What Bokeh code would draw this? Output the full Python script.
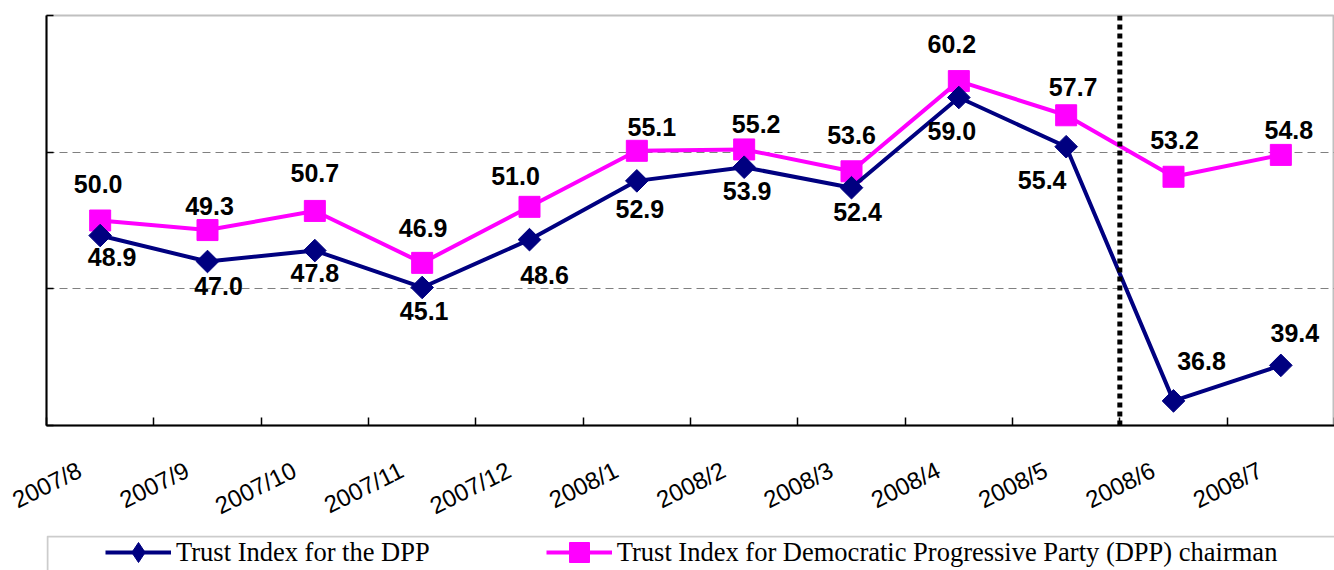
import math
from bokeh.plotting import figure
from bokeh.layouts import column
from bokeh.models import (ColumnDataSource, Range1d, FixedTicker, LabelSet, Span,
                          Legend, LegendItem, BoxAnnotation)
from bokeh.core.properties import value
from bokeh.embed import file_html
from bokeh.resources import INLINE

# ---------------- data ----------------
months = ["2007/8", "2007/9", "2007/10", "2007/11", "2007/12", "2008/1",
          "2008/2", "2008/3", "2008/4", "2008/5", "2008/6", "2008/7"]
dpp = [48.9, 47.0, 47.8, 45.1, 48.6, 52.9, 53.9, 52.4, 59.0, 55.4, 36.8, 39.4]
chairman = [50.0, 49.3, 50.7, 46.9, 51.0, 55.1, 55.2, 53.6, 60.2, 57.7, 53.2, 54.8]
y_ticks = [35, 45, 55, 65]
grid_values = [45, 55]
divider_after = "2008/5"
dpp_name = "Trust Index for the DPP"
chairman_name = "Trust Index for Democratic Progressive Party (DPP) chairman"

# label placement (screen px: right / up)
chair_dx = [-2, 2, 0, 1, -14, 15, 12, 0, -7, 7, 1, 8]
chair_dy = [37, 24, 38, 35, 31, 24, 25, 36, 37, 28, 37, 25]
dpp_dx = [12, 11, 0, 2, 15, 3, 3, 6, -7, -24, 28, 14]
dpp_dy = [-21, -24, -22, -24, -35, -28, -24, -24, -33, -33, 40, 32]

# ---------------- layout constants ----------------
W = 1334
TOTAL_H = 570
LEFT = 46
AXIS_PANEL = 110            # room below the chart frame for the category labels
H_MAIN = 425 + AXIS_PANEL   # chart frame bottom at page y 425
H_LOW = TOTAL_H - H_MAIN    # legend strip
LABEL_SHIFT = 0.19          # category-label anchor shift (fraction of a category)
LEGEND_MID = 552            # page y of legend text centre
LEGEND_KEY_DX = 59          # first legend key, px right of the frame's left edge

n = len(months)
xs = [i + 0.5 for i in range(n)]
label_pos = [x - LABEL_SHIFT for x in xs]

p = figure(width=W, height=H_MAIN, output_backend="svg", toolbar_location=None,
           x_range=Range1d(0, n), y_range=Range1d(y_ticks[0], y_ticks[-1]),
           min_border_left=LEFT, min_border_top=15, min_border_right=0,
           min_border_bottom=AXIS_PANEL)
p.background_fill_color = "white"
p.border_fill_color = "white"
p.outline_line_color = "#c0c0c0"
p.outline_line_width = 2

# grid
p.xgrid.grid_line_color = None
p.ygrid.ticker = FixedTicker(ticks=grid_values)
p.ygrid.grid_line_color = "#808080"
p.ygrid.grid_line_dash = "8 5"
p.ygrid.grid_line_width = 1

# y axis (no labels, inward ticks)
p.yaxis.ticker = FixedTicker(ticks=y_ticks)
p.yaxis.major_label_overrides = {t: "" for t in y_ticks}
p.yaxis.major_tick_in = 7
p.yaxis.major_tick_out = 0
p.yaxis.minor_tick_line_color = None
p.yaxis.axis_line_width = 2
p.yaxis.axis_line_color = "black"
p.yaxis.major_tick_line_color = "black"
p.yaxis.major_tick_line_width = 1.5

# x axis: rotated month labels, ticks at category boundaries
p.xaxis.ticker = FixedTicker(ticks=label_pos, minor_ticks=list(range(n + 1)))
p.xaxis.major_label_overrides = {x: m for x, m in zip(label_pos, months)}
p.xaxis.major_tick_in = 0
p.xaxis.major_tick_out = 0
p.xaxis.minor_tick_in = 8
p.xaxis.minor_tick_out = 0
p.xaxis.minor_tick_line_color = "black"
p.xaxis.minor_tick_line_width = 1.5
p.xaxis.axis_line_width = 2
p.xaxis.axis_line_color = "black"
p.xaxis.major_label_orientation = 0.46
p.xaxis.major_label_standoff = 43
p.xaxis.major_label_text_font = "Liberation Sans"
p.xaxis.major_label_text_font_size = "24px"
p.xaxis.major_label_text_color = "black"

# divider
p.add_layout(Span(location=months.index(divider_after) + 1, dimension="height",
                  line_color="black", line_width=5, line_dash="5 4"))

# series
src = ColumnDataSource(dict(x=xs, dpp=dpp, chairman=chairman,
                            dpp_txt=[f"{v:.1f}" for v in dpp],
                            ch_txt=[f"{v:.1f}" for v in chairman],
                            ch_dx=chair_dx, ch_dy=chair_dy, dpp_dx=dpp_dx, dpp_dy=dpp_dy))

pink = "#ff00ff"
navy = "#000080"

p.line("x", "chairman", source=src, line_color=pink, line_width=4)
p.scatter("x", "chairman", source=src, marker="square", size=21,
          fill_color=pink, line_color=pink)
p.line("x", "dpp", source=src, line_color=navy, line_width=4)
p.scatter("x", "dpp", source=src, marker="square", size=16, angle=math.pi / 4,
          fill_color=navy, line_color=navy)

for col, txt, dx, dy in (("chairman", "ch_txt", "ch_dx", "ch_dy"),
                         ("dpp", "dpp_txt", "dpp_dx", "dpp_dy")):
    p.add_layout(LabelSet(x="x", y=col, text=txt, source=src, x_offset=dx, y_offset=dy,
                          text_align="center", text_baseline="middle",
                          text_font=value("Liberation Sans"), text_font_style="bold",
                          text_font_size="25px", text_color="black"))

# ---------------- legend strip ----------------
# coordinates of this strip are pixels: x from the frame's left edge, y up from page bottom
lg = figure(width=W, height=H_LOW, output_backend="svg", toolbar_location=None,
            x_axis_location=None, y_axis_location=None,
            x_range=Range1d(0, W - LEFT), y_range=Range1d(0, H_LOW),
            min_border_left=LEFT, min_border_right=0, min_border_top=0, min_border_bottom=0)
lg.grid.visible = False
lg.outline_line_color = None
lg.background_fill_color = "white"
lg.border_fill_color = "white"
lg.add_layout(BoxAnnotation(left=1, right=W + 50, top=H_LOW - 1, bottom=-20,
                            fill_alpha=0, line_color="#555555", line_width=2))

# legend keys (hidden renderers that share the series source; only their keys are shown)
k_dpp_line = lg.line("x", "dpp", source=src, line_color=navy, line_width=4, visible=False)
k_dpp_mark = lg.scatter("x", "dpp", source=src, marker="diamond", size=16,
                        fill_color=navy, line_color=navy, visible=False)
k_ch_line = lg.line("x", "chairman", source=src, line_color=pink, line_width=4, visible=False)
k_ch_mark = lg.scatter("x", "chairman", source=src, marker="square", size=21,
                       fill_color=pink, line_color=pink, visible=False)

GLYPH_H = 50
legend = Legend(items=[LegendItem(label=dpp_name, renderers=[k_dpp_line, k_dpp_mark]),
                       LegendItem(label=chairman_name, renderers=[k_ch_line, k_ch_mark])],
                orientation="horizontal",
                location=(LEGEND_KEY_DX, TOTAL_H - LEGEND_MID - GLYPH_H // 2),
                margin=0, padding=0,
                glyph_width=66, glyph_height=GLYPH_H, label_height=30, label_standoff=5,
                spacing=116, border_line_alpha=0, background_fill_alpha=0,
                label_text_font="Liberation Serif", label_text_font_size="26.5px",
                label_text_color="black")
lg.add_layout(legend)

layout = column(p, lg, spacing=0)
open("out.html", "w").write(file_html(layout, INLINE))
